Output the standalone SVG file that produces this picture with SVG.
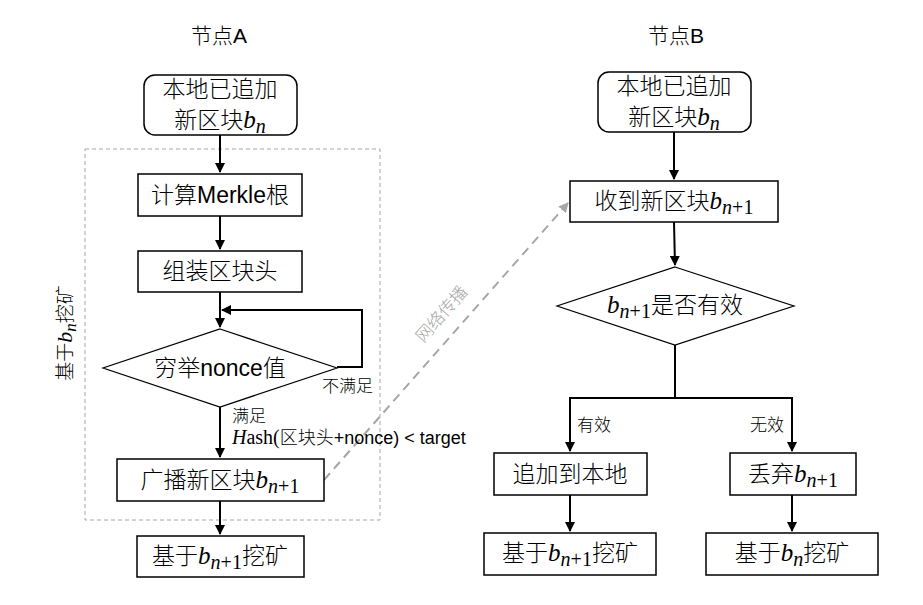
<svg xmlns="http://www.w3.org/2000/svg" width="923" height="605" viewBox="0 0 923 605">
  <style>
    .box { fill: #ffffff; stroke: #000000; stroke-width: 1.5; }
    .dia { fill: #ffffff; stroke: #000000; stroke-width: 1.2; }
    .edge { fill: none; stroke: #000000; stroke-width: 2; }
    .net { fill: none; stroke: #a6a6a6; stroke-width: 2; stroke-dasharray: 9 6; }
    .group { fill: none; stroke: #a6a6a6; stroke-width: 1; stroke-dasharray: 4 3; }
    text { font-family: "Liberation Sans", "Noto Sans CJK SC", sans-serif; font-weight: 300; fill: #000000; }
    .t { font-size: 23px; text-anchor: middle; }
    .title { font-size: 21px; text-anchor: middle; }
    .lbl { font-size: 17px; }
    .hash { font-size: 18px; }
    .m { font-family: "Liberation Serif", serif; font-style: italic; font-weight: normal; }
    .u { font-family: "Liberation Serif", serif; font-style: normal; font-weight: normal; }
  </style>
  <defs>
    <marker id="arr" viewBox="0 0 10 10" refX="9" refY="5" markerWidth="5" markerHeight="5" orient="auto">
      <path d="M0,0 L10,5 L0,10 z" fill="#000000"/>
    </marker>
    <marker id="arrg" viewBox="0 0 10 10" refX="9" refY="5" markerWidth="5" markerHeight="5" orient="auto">
      <path d="M0,0 L10,5 L0,10 z" fill="#a6a6a6"/>
    </marker>
  </defs>

  <rect width="923" height="605" fill="#ffffff"/>

  <!-- column headings -->
  <text class="title" x="219" y="43">节点A</text>
  <text class="title" x="676" y="43">节点B</text>

  <!-- mining scope of node A -->
  <g id="scopeA">
    <rect class="group" x="85" y="149" width="295" height="371"/>
    <text font-size="19" transform="translate(72,333) rotate(-90)" text-anchor="middle">基于<tspan class="m" font-size="22">b</tspan><tspan class="m" font-size="17" dy="4">n</tspan><tspan dy="-4">挖矿</tspan></text>
  </g>

  <g id="connectors">
    <!-- node A -->
    <line class="edge" x1="220" y1="135" x2="220" y2="172" marker-end="url(#arr)"/>
    <line class="edge" x1="220" y1="216" x2="220" y2="249" marker-end="url(#arr)"/>
    <line class="edge" x1="220" y1="292" x2="220" y2="327" marker-end="url(#arr)"/>
    <polyline class="edge" points="337,367 362,367 362,310 222,310" marker-end="url(#arr)"/>
    <line class="edge" x1="220" y1="407" x2="220" y2="457" marker-end="url(#arr)"/>
    <line class="edge" x1="220" y1="501" x2="220" y2="534" marker-end="url(#arr)"/>
    <!-- node B -->
    <line class="edge" x1="674" y1="132" x2="674" y2="179" marker-end="url(#arr)"/>
    <line class="edge" x1="674" y1="222" x2="675" y2="265" marker-end="url(#arr)"/>
    <line class="edge" x1="675" y1="345" x2="675" y2="398"/>
    <polyline class="edge" points="675,398 570,398 570,451" marker-end="url(#arr)"/>
    <polyline class="edge" points="675,398 792,398 792,451" marker-end="url(#arr)"/>
    <line class="edge" x1="570" y1="495" x2="570" y2="531" marker-end="url(#arr)"/>
    <line class="edge" x1="792" y1="495" x2="792" y2="531" marker-end="url(#arr)"/>
    <!-- broadcast A to B -->
    <line class="net" x1="324" y1="480" x2="568" y2="203" marker-end="url(#arrg)"/>
    <!-- edge labels -->
    <text class="lbl" x="322" y="392">不满足</text>
    <text class="lbl" x="232" y="422">满足</text>
    <text class="hash" x="232" y="444"><tspan class="m" font-size="20">H</tspan><tspan class="u" font-size="20">ash(</tspan>区块头+nonce) &lt; target</text>
    <text class="lbl" x="577" y="431">有效</text>
    <text class="lbl" x="750" y="431">无效</text>
    <text class="lbl" style="fill:#a6a6a6" transform="translate(446,318) rotate(-48.5)" text-anchor="middle">网络传播</text>
  </g>

  <!-- node A -->
  <g id="a_start">
    <rect class="box" x="144" y="75" width="153" height="60" rx="11"/>
    <text class="t" x="220" y="97">本地已追加</text>
    <text class="t" x="220" y="128">新区块<tspan class="m" font-size="25">b</tspan><tspan class="m" font-size="20" dy="5">n</tspan></text>
  </g>
  <g id="a_merkle">
    <rect class="box" x="138" y="174" width="164" height="42"/>
    <text class="t" x="220" y="203">计算Merkle根</text>
  </g>
  <g id="a_header">
    <rect class="box" x="138" y="251" width="164" height="41"/>
    <text class="t" x="220" y="279">组装区块头</text>
  </g>
  <g id="a_nonce">
    <polygon class="dia" points="220,329 337,368 220,407 103,368"/>
    <text class="t" x="220" y="376">穷举nonce值</text>
  </g>
  <g id="a_broadcast">
    <rect class="box" x="117" y="459" width="207" height="42"/>
    <text class="t" x="220" y="488">广播新区块<tspan class="m" font-size="25">b</tspan><tspan class="m" font-size="20" dy="5">n</tspan><tspan class="u" font-size="20">+1</tspan></text>
  </g>
  <g id="a_mine">
    <rect class="box" x="137" y="536" width="167" height="41"/>
    <text class="t" x="220" y="564">基于<tspan class="m" font-size="25">b</tspan><tspan class="m" font-size="20" dy="5">n</tspan><tspan class="u" font-size="20">+1</tspan><tspan dy="-5">挖矿</tspan></text>
  </g>

  <!-- node B -->
  <g id="b_start">
    <rect class="box" x="598" y="72" width="153" height="60" rx="11"/>
    <text class="t" x="674" y="94">本地已追加</text>
    <text class="t" x="674" y="125">新区块<tspan class="m" font-size="25">b</tspan><tspan class="m" font-size="20" dy="5">n</tspan></text>
  </g>
  <g id="b_receive">
    <rect class="box" x="570" y="181" width="208" height="41"/>
    <text class="t" x="674" y="209">收到新区块<tspan class="m" font-size="25">b</tspan><tspan class="m" font-size="20" dy="5">n</tspan><tspan class="u" font-size="20">+1</tspan></text>
  </g>
  <g id="b_valid">
    <polygon class="dia" points="675,267 794,306 675,345 557,306"/>
    <text class="t" x="675" y="313"><tspan class="m" font-size="25">b</tspan><tspan class="m" font-size="20" dy="5">n</tspan><tspan class="u" font-size="20">+1</tspan><tspan dy="-5">是否有效</tspan></text>
  </g>
  <g id="b_append">
    <rect class="box" x="494" y="453" width="153" height="42"/>
    <text class="t" x="570" y="482">追加到本地</text>
  </g>
  <g id="b_discard">
    <rect class="box" x="730" y="453" width="126" height="42"/>
    <text class="t" x="793" y="482">丢弃<tspan class="m" font-size="25">b</tspan><tspan class="m" font-size="20" dy="5">n</tspan><tspan class="u" font-size="20">+1</tspan></text>
  </g>
  <g id="b_mine_next">
    <rect class="box" x="484" y="533" width="172" height="42"/>
    <text class="t" x="570" y="561">基于<tspan class="m" font-size="25">b</tspan><tspan class="m" font-size="20" dy="5">n</tspan><tspan class="u" font-size="20">+1</tspan><tspan dy="-5">挖矿</tspan></text>
  </g>
  <g id="b_mine_keep">
    <rect class="box" x="706" y="533" width="172" height="42"/>
    <text class="t" x="792" y="561">基于<tspan class="m" font-size="25">b</tspan><tspan class="m" font-size="20" dy="5">n</tspan><tspan dy="-5">挖矿</tspan></text>
  </g>
</svg>
